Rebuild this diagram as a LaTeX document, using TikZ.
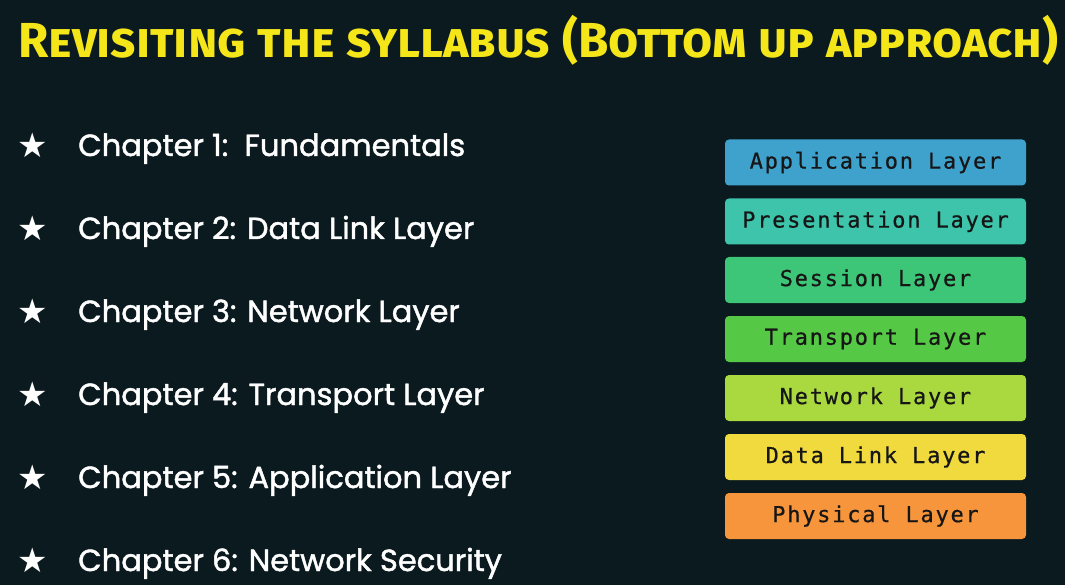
\documentclass[tikz,border=0pt]{standalone}
\usepackage{fontspec}
\usepackage{graphicx}
\setmainfont{Fira Sans}
\newfontfamily\titlefont[Letters=SmallCaps]{Fira Sans}
\newfontfamily\itemfont[FakeBold=1.5]{Poppins}
\newfontfamily\layerfont[LetterSpace=8,FakeBold=0.6]{DejaVu Sans Mono}
\newfontfamily\symfont{DejaVu Sans}
\definecolor{bg}{HTML}{0B1A1F}
\definecolor{titleyellow}{HTML}{F5E61A}
\definecolor{appc}{HTML}{3FA2CD}
\definecolor{presc}{HTML}{3DC4AA}
\definecolor{sessc}{HTML}{3DC677}
\definecolor{transc}{HTML}{55C945}
\definecolor{netc}{HTML}{A9D83F}
\definecolor{dlc}{HTML}{F0DA3D}
\definecolor{physc}{HTML}{F6953B}
\definecolor{layertext}{HTML}{161616}
\tikzset{
  layerbox/.style={draw=none, rounded corners=4pt, minimum width=301pt, minimum height=46pt,
    inner sep=0pt, font=\layerfont\fontsize{22}{24}\selectfont, text=layertext},
  bullet/.style={text=white, font=\symfont\fontsize{34}{38}\selectfont, inner sep=0pt},
  chapter/.style={text=white, anchor=base west, inner sep=0pt, font=\itemfont\fontsize{30.5}{34}\selectfont},
}
\begin{document}
\begin{tikzpicture}[x=1pt,y=-1pt]
  \fill[bg] (0,0) rectangle (1065,585);
  \useasboundingbox (0,0) rectangle (1065,585);
  % heading
  \node[anchor=base west, inner sep=0pt, text=titleyellow] (title) at (18,58)
    {\resizebox{1040pt}{!}{\titlefont\fontseries{sb}\selectfont\fontsize{50}{54}\selectfont Revisiting the syllabus (Bottom up approach)}};
  % chapter list
  \foreach \i/\t [count=\n] in {1/{Chapter 1:\ \ Fundamentals},
      2/{Chapter 2: Data Link Layer},
      3/{Chapter 3: Network Layer},
      4/{Chapter 4: Transport Layer},
      5/{Chapter 5: Application Layer},
      6/{Chapter 6: Network Security}} {
    \node[bullet] (star\i) at (33, 62+83*\i) {★};
    \node[chapter] (ch\i) at (78, 73+83*\i) {\t};
  }
  % OSI layer stack
  \node[layerbox, fill=appc]   (app)   at (875.5,162.5) {Application Layer};
  \node[layerbox, fill=presc]  (pres)  at (875.5,221.5) {Presentation Layer};
  \node[layerbox, fill=sessc]  (sess)  at (875.5,280)   {Session Layer};
  \node[layerbox, fill=transc] (trans) at (875.5,339)   {Transport Layer};
  \node[layerbox, fill=netc]   (net)   at (875.5,398)   {Network Layer};
  \node[layerbox, fill=dlc]    (dl)    at (875.5,457)   {Data Link Layer};
  \node[layerbox, fill=physc]  (phys)  at (875.5,516)   {Physical Layer};
\end{tikzpicture}
\end{document}
